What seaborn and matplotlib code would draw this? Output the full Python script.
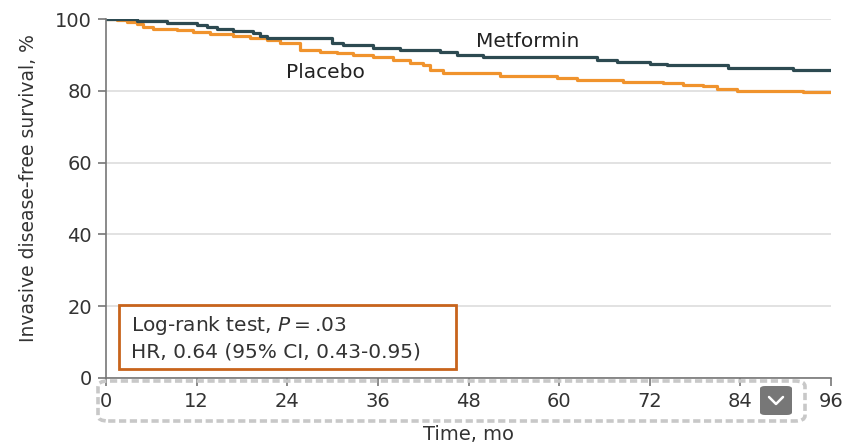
import matplotlib
matplotlib.use("Agg")
import matplotlib.pyplot as plt
import pandas as pd
import seaborn as sns
from matplotlib.lines import Line2D
from matplotlib.patches import FancyBboxPatch, Rectangle

# Kaplan-Meier step values (month, survival %)
metformin_t = [0, 4.1, 8.1, 12.1, 13.4, 14.7, 16.8, 19.5, 20.4, 21.3, 29.9, 31.4, 35.4, 38.9,
               44.2, 46.5, 49.9, 65.0, 67.7, 72.0, 74.3, 82.3, 91.0, 96.0]
metformin_s = [100, 99.4, 98.9, 98.4, 97.8, 97.1, 96.7, 96.1, 95.3, 94.7, 93.4, 92.8, 91.8, 91.4,
               90.9, 90.1, 89.5, 88.6, 88.1, 87.6, 87.2, 86.3, 85.8, 85.8]

placebo_t = [0, 1.5, 2.8, 4.1, 4.9, 6.2, 9.4, 11.5, 13.8, 16.8, 19.1, 21.3, 23.0, 24.4, 25.7,
             28.3, 30.6, 32.7, 35.4, 38.0, 40.3, 42.0, 42.9, 44.6, 52.2, 59.7, 62.4, 68.5,
             73.8, 76.4, 79.1, 80.9, 83.6, 92.3, 96.0]
placebo_s = [100, 99.6, 99.2, 98.5, 97.8, 97.3, 96.9, 96.4, 95.9, 95.3, 94.7, 94.1, 93.4, 93.2, 91.4,
             90.9, 90.5, 90.0, 89.3, 88.6, 87.8, 87.2, 85.8, 84.9, 84.2, 83.5, 83.0, 82.5,
             82.1, 81.6, 81.2, 80.5, 79.9, 79.7, 79.7]

x_ticks = [0, 12, 24, 36, 48, 60, 72, 84, 96]
y_ticks = [0, 20, 40, 60, 80, 100]

C_MET = "#2d4a51"
C_PLA = "#f0932d"
TXT = "#333333"
FS = 14

df = pd.concat([
    pd.DataFrame({"month": metformin_t, "survival": metformin_s, "group": "Metformin"}),
    pd.DataFrame({"month": placebo_t, "survival": placebo_s, "group": "Placebo"}),
])

sns.set_theme(style="white")
plt.rcParams["font.family"] = ["DejaVu Sans"]

fig = plt.figure(figsize=(8.46, 4.45), dpi=100)
ax = fig.add_axes([0.1253, 0.1506, 0.857, 0.8067])

sns.lineplot(data=df, x="month", y="survival", hue="group",
             palette={"Metformin": C_MET, "Placebo": C_PLA},
             hue_order=["Placebo", "Metformin"],
             drawstyle="steps-post", linewidth=2.3, legend=False, ax=ax)

ax.set_xlim(0, 96)
ax.set_ylim(0, 100)
ax.set_xticks(x_ticks)
ax.set_yticks(y_ticks)
ax.yaxis.grid(True, color="#dddddd", linewidth=1.2)
ax.set_axisbelow(True)
for side in ["top", "right"]:
    ax.spines[side].set_visible(False)
for side in ["left", "bottom"]:
    ax.spines[side].set_color("#777777")
    ax.spines[side].set_linewidth(1.2)
ax.tick_params(axis="both", direction="out", length=6, width=1.2, color="#777777",
               labelsize=FS, labelcolor=TXT, pad=4, left=True, bottom=True)
ax.set_xlabel("Time, mo", fontsize=FS, color=TXT, labelpad=10)
ax.set_ylabel("Invasive disease-free survival, %", fontsize=FS - 0.5, color=TXT, labelpad=14)
ax.yaxis.set_label_coords(-0.094, 0.53)

ax.text(55.8, 93.6, "Metformin", fontsize=FS + 0.5, color="#222222", ha="center", va="center")
ax.text(29.0, 85.0, "Placebo", fontsize=FS + 0.5, color="#222222", ha="center", va="center")

# statistics box
ax.add_patch(Rectangle((1.7, 2.5), 44.6, 17.8, transform=ax.transData, fill=False,
                       edgecolor="#c8641c", linewidth=2, clip_on=False))
ax.text(3.3, 14.5, "Log-rank test, $\\it{P}$\u2009=\u2009.03", fontsize=FS + 0.5, color=TXT, va="center")
ax.text(3.3, 7.2, "HR, 0.64 (95% CI, 0.43-0.95)", fontsize=FS + 0.5, color=TXT, va="center")

# dashed rounded frame around the x tick labels and the chevron button
fig.patches.append(FancyBboxPatch((98 / 846, 1 - 421 / 445), 707 / 846, 40 / 445,
                                  boxstyle="round,pad=0,rounding_size=0.012",
                                  transform=fig.transFigure, fill=False,
                                  edgecolor="#c8c8c8", linewidth=2.6, linestyle=(0, (2.0, 1.0))))
fig.patches.append(FancyBboxPatch((760 / 846, 1 - 415 / 445), 32 / 846, 29 / 445,
                                  boxstyle="round,pad=0,rounding_size=0.006",
                                  transform=fig.transFigure, facecolor="#777777",
                                  edgecolor="none"))
fig.lines.append(Line2D([769 / 846, 776 / 846, 783 / 846],
                        [1 - 397 / 445, 1 - 404 / 445, 1 - 397 / 445],
                        transform=fig.transFigure, color="white", linewidth=1.8))

fig.savefig("out.png", dpi=100)
